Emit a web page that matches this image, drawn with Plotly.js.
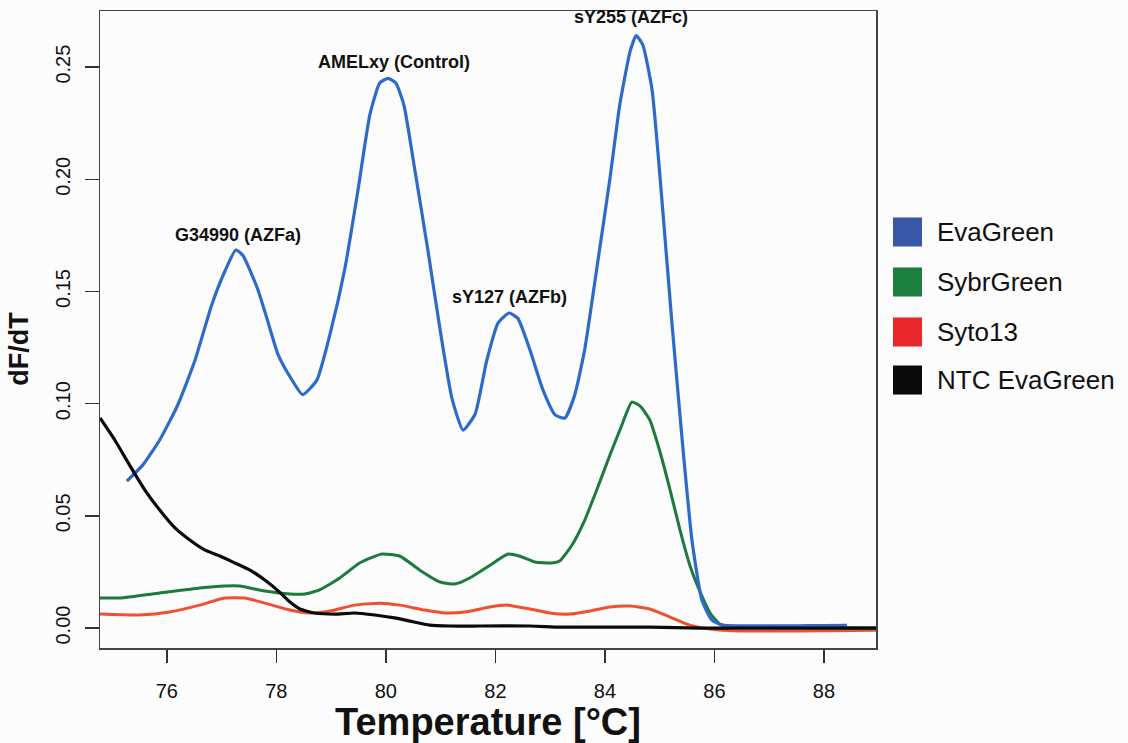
<!DOCTYPE html>
<html>
<head>
<meta charset="utf-8">
<script src="https://cdn.plot.ly/plotly-3.0.1.min.js"></script>
<style>
  html, body { margin: 0; padding: 0; background: #fcfcfd; }
  #chart { width: 1128px; height: 743px; }
</style>
</head>
<body>
<div id="chart"></div>
<script>
// ---- data ----
const evaT = [75.27,75.56,75.87,76.20,76.51,76.82,77.06,77.26,77.39,77.66,77.84,78.03,78.25,78.48,78.74,78.98,79.25,79.49,79.71,79.89,80.04,80.18,80.33,80.53,80.77,80.99,81.21,81.41,81.63,81.84,82.05,82.25,82.41,82.63,82.87,83.09,83.27,83.45,83.63,83.85,84.09,84.27,84.46,84.57,84.69,84.86,85.04,85.22,85.41,85.59,85.77,85.95,86.14,86.47,87.0,87.5,88.0,88.42];
const evaV = [0.0655,0.0726,0.0838,0.0994,0.119,0.144,0.159,0.1685,0.166,0.151,0.137,0.122,0.112,0.104,0.1105,0.131,0.160,0.195,0.229,0.243,0.245,0.243,0.233,0.204,0.168,0.133,0.102,0.0882,0.0954,0.119,0.136,0.1404,0.138,0.124,0.106,0.095,0.0936,0.104,0.124,0.160,0.200,0.233,0.257,0.264,0.260,0.240,0.191,0.137,0.084,0.039,0.0125,0.0036,0.0013,0.0010,0.0010,0.0010,0.0011,0.0012];

const sybT = [74.78,75.14,75.87,76.60,77.06,77.33,77.79,78.25,78.52,78.79,79.16,79.52,79.93,80.26,80.62,80.99,81.26,81.53,81.90,82.23,82.45,82.72,83.03,83.18,83.40,83.63,83.85,84.09,84.31,84.49,84.64,84.82,85.00,85.19,85.37,85.55,85.74,85.92,86.10,86.37,87.0,88.0,88.95];
const sybV = [0.0134,0.0134,0.0156,0.0178,0.0187,0.0187,0.0165,0.0152,0.0152,0.017,0.0223,0.029,0.033,0.032,0.0258,0.0205,0.0196,0.0223,0.028,0.033,0.032,0.0294,0.029,0.030,0.037,0.048,0.0615,0.077,0.0905,0.1007,0.099,0.0927,0.079,0.0615,0.0437,0.028,0.016,0.0067,0.0018,0.0004,0.0002,0.0001,0.0001];

const sytoT = [74.78,75.50,76.05,76.60,77.06,77.42,77.79,78.25,78.61,78.98,79.43,79.89,80.26,80.71,81.08,81.44,81.90,82.23,82.63,82.99,83.36,83.73,84.09,84.46,84.82,85.19,85.55,85.92,86.47,87.56,88.95];
const sytoV = [0.0062,0.0058,0.0071,0.0102,0.0134,0.0134,0.0111,0.008,0.0067,0.0076,0.0102,0.0111,0.0102,0.008,0.0067,0.0071,0.0094,0.0102,0.0085,0.0067,0.0062,0.0076,0.0094,0.0098,0.0085,0.0049,0.0013,-0.0004,-0.0013,-0.0013,-0.001];

const ntcT = [74.78,75.05,75.32,75.60,75.87,76.15,76.42,76.69,76.97,77.24,77.52,77.79,78.06,78.25,78.43,78.70,79.07,79.43,79.80,80.16,80.44,80.80,81.17,81.72,82.63,83.18,83.91,84.82,85.74,88.95];
const ntcV = [0.0936,0.0838,0.0726,0.0615,0.0526,0.0446,0.0392,0.0348,0.0321,0.029,0.0258,0.0214,0.016,0.0116,0.0085,0.0067,0.0062,0.0067,0.0058,0.0045,0.0031,0.0013,0.0009,0.0009,0.0009,0.0004,0.0004,0.0004,0.0,0.0];

const seriesNames = ["EvaGreen", "SybrGreen", "Syto13", "NTC EvaGreen"];
const peakLabels = ["G34990 (AZFa)", "AMELxy (Control)", "sY127 (AZFb)", "sY255 (AZFc)"];
const peakLabelT = [77.30, 80.155, 82.265, 84.47];
const peakLabelV = [0.1751, 0.2522, 0.1475, 0.2723];
const xTicks = [76, 78, 80, 82, 84, 86, 88];
const yTicks = [0.00, 0.05, 0.10, 0.15, 0.20, 0.25];
const xRange = [74.78, 88.95];
const yRange = [-0.0089, 0.275];

// ---- styling ----
const lineColors = ["#2d6bca", "#1d7a3c", "#f0502f", "#0a0a0a"];
const legendColors = ["#3a56a8", "#1b7f40", "#e8282b", "#0a0a0a"];
const font = "Liberation Sans, Arial, Helvetica, sans-serif";

function tr(x, y, i, w) {
  return { x: x, y: y, type: "scatter", mode: "lines", name: seriesNames[i],
    line: { color: lineColors[i], width: w, shape: "spline", smoothing: 0.5 },
    showlegend: false, hoverinfo: "skip" };
}
const data = [
  // empty carriers for the y-title axis (y3) and the label axes (x2/y2)
  { x: [], y: [], type: "scatter", mode: "lines", xaxis: "x", yaxis: "y3", showlegend: false, hoverinfo: "skip" },
  { x: [], y: [], type: "scatter", mode: "lines", xaxis: "x2", yaxis: "y2", showlegend: false, hoverinfo: "skip" },
  tr(sytoT, sytoV, 2, 3),
  tr(sybT, sybV, 1, 3),
  tr(evaT, evaV, 0, 3.2),
  tr(ntcT, ntcV, 3, 3.2)
];

const annotations = peakLabels.map((t, i) => ({
  x: peakLabelT[i], y: peakLabelV[i], xref: "x", yref: "y", text: "<b>" + t + "</b>",
  showarrow: false, xanchor: "center", yanchor: "middle",
  font: { family: font, size: 18, color: "#111" }
}));

// legend drawn in paper coordinates (plot area: x 100..876, y 11..648)
const legY = [0.6531, 0.5746, 0.4961, 0.4207];
const shapes = [];
seriesNames.forEach((n, i) => {
  shapes.push({ type: "rect", xref: "paper", yref: "paper",
    x0: 1.0219, x1: 1.0593, y0: legY[i] - 0.0228, y1: legY[i] + 0.0228,
    fillcolor: legendColors[i], line: { width: 0 } });
  annotations.push({ x: 1.0765, y: legY[i], xref: "paper", yref: "paper", text: n,
    showarrow: false, xanchor: "left", yanchor: "middle",
    font: { family: font, size: 26, color: "#111" } });
});

const tickFont = { family: font, size: 20, color: "#111" };
const layout = {
  width: 1128, height: 743,
  margin: { l: 100, r: 252, t: 11, b: 95 },
  paper_bgcolor: "#fcfcfd", plot_bgcolor: "rgba(0,0,0,0)",
  showlegend: false,
  // main axes: frame + visible tick marks
  xaxis: {
    range: xRange, autorange: false, tickvals: xTicks, showticklabels: false,
    ticks: "outside", ticklen: 13, tickwidth: 1.5, tickcolor: "#333",
    showline: true, mirror: true, linecolor: "#444", linewidth: 1.5,
    showgrid: false, zeroline: false
  },
  yaxis: {
    range: yRange, autorange: false, tickvals: yTicks, showticklabels: false,
    ticks: "outside", ticklen: 14, tickwidth: 1.5, tickcolor: "#333",
    showline: true, mirror: true, linecolor: "#444", linewidth: 1.5,
    showgrid: false, zeroline: false
  },
  // label axes: same scale, invisible longer ticks push the labels outward
  xaxis2: {
    overlaying: "x", anchor: "y2", side: "bottom",
    range: xRange, autorange: false, tickvals: xTicks, ticktext: xTicks.map(String),
    ticks: "outside", ticklen: 25, tickcolor: "rgba(0,0,0,0)",
    showline: false, showgrid: false, zeroline: false,
    tickfont: tickFont,
    title: { text: "<b>Temperature [°C]</b>", font: { family: font, size: 38, color: "#111" }, standoff: 8 }
  },
  yaxis2: {
    overlaying: "y", anchor: "x2", side: "left",
    range: yRange, autorange: false, tickvals: yTicks, ticktext: yTicks.map(v => v.toFixed(2)),
    ticks: "outside", ticklen: 21, tickcolor: "rgba(0,0,0,0)", tickangle: -90,
    showline: false, showgrid: false, zeroline: false,
    tickfont: tickFont
  },
  // title-only axis, centred a little lower than the plot centre as in the reference
  yaxis3: {
    domain: [0, 0.9388], anchor: "free", position: 0, side: "left",
    range: yRange, autorange: false,
    showticklabels: false, ticks: "", showline: false, showgrid: false, zeroline: false,
    title: { text: "<b>dF/dT</b>", font: { family: font, size: 27, color: "#111" }, standoff: 62 }
  },
  shapes: shapes,
  annotations: annotations
};

Plotly.newPlot("chart", data, layout, { staticPlot: true });
</script>
</body>
</html>
